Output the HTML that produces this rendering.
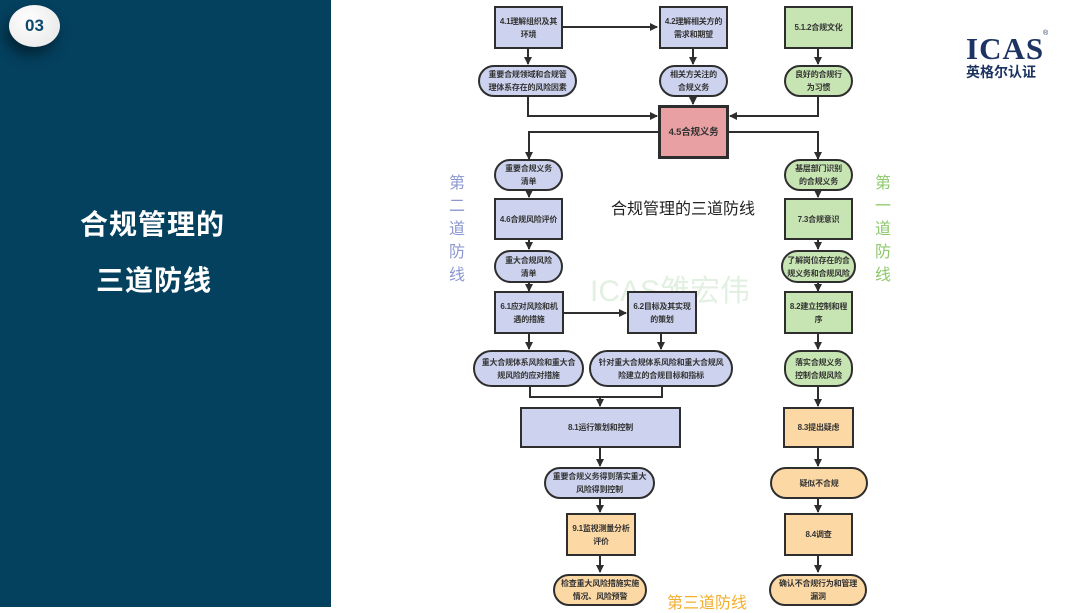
<!DOCTYPE html>
<html><head><meta charset="utf-8"><style>
*{margin:0;padding:0;box-sizing:border-box}
body{width:1080px;height:607px;position:relative;overflow:hidden;background:#fff;font-family:"Liberation Sans","Noto Sans CJK SC",sans-serif}
.n{position:absolute;display:flex;align-items:center;justify-content:center;text-align:center;border:2.5px solid #2e2e2e;font-size:8px;font-weight:bold;color:#333;line-height:13px;padding:0;white-space:nowrap;letter-spacing:-0.2px}
.p{border-radius:17px}
.b{background:#cdd3ee}.g{background:#c7e5b2}.o{background:#fcd8a4}
.t{position:absolute;white-space:nowrap}
</style></head><body>
<div style="position:absolute;left:0;top:0;width:331px;height:607px;background:#04415f"></div>
<div style="position:absolute;left:9px;top:5px;width:51px;height:42px;border-radius:50%;background:radial-gradient(circle at 40% 35%,#fff,#e4e4e4);box-shadow:-4px 8px 14px rgba(0,0,0,.45);display:flex;align-items:center;justify-content:center;font-weight:bold;font-size:17px;color:#0b4a6c">03</div>
<div class="t" style="left:80px;top:203px;font-size:28px;font-weight:bold;color:#fff;letter-spacing:1px">合规管理的</div>
<div class="t" style="left:96px;top:259px;font-size:28px;font-weight:bold;color:#fff;letter-spacing:1px">三道防线</div>

<div class="t" style="left:966px;top:31px;font-family:'Liberation Serif',serif;font-weight:bold;font-size:31px;color:#1d3462;letter-spacing:1px">ICAS</div>
<div class="t" style="left:1043px;top:30px;font-size:7px;color:#1d3462">®</div>
<div class="t" style="left:966px;top:62px;font-size:14px;font-weight:bold;color:#1d3462">英格尔认证</div>

<div class="t" style="left:590px;top:266px;font-size:30px;color:#e2f0e2">ICAS雏宏伟</div>

<svg style="position:absolute;left:0;top:0" width="1080" height="607">
<defs><marker id="a" markerWidth="8" markerHeight="8" refX="7" refY="4" orient="auto" markerUnits="userSpaceOnUse"><path d="M0,0L8,4L0,8z" fill="#2e2e2e"/></marker></defs>
<g stroke="#2e2e2e" stroke-width="2" fill="none">
<path d="M528 48V64" marker-end="url(#a)"/>
<path d="M562 27H657" marker-end="url(#a)"/>
<path d="M693 48V64" marker-end="url(#a)"/>
<path d="M818 48V64" marker-end="url(#a)"/>
<path d="M693 97V104" marker-end="url(#a)"/>
<path d="M528 97V116H657" marker-end="url(#a)"/>
<path d="M818 97V116H730" marker-end="url(#a)"/>
<path d="M659 132H529V159" marker-end="url(#a)"/>
<path d="M728 132H818V159" marker-end="url(#a)"/>
<path d="M529 191V197" marker-end="url(#a)"/>
<path d="M529 240V249" marker-end="url(#a)"/>
<path d="M529 283V291" marker-end="url(#a)"/>
<path d="M562 313H626" marker-end="url(#a)"/>
<path d="M529 333V349" marker-end="url(#a)"/>
<path d="M661 333V349" marker-end="url(#a)"/>
<path d="M530 387V397H662V387" />
<path d="M600 397V406" marker-end="url(#a)"/>
<path d="M600 447V466" marker-end="url(#a)"/>
<path d="M600 498V512" marker-end="url(#a)"/>
<path d="M600 555V572" marker-end="url(#a)"/>
<path d="M818 191V197" marker-end="url(#a)"/>
<path d="M818 240V249" marker-end="url(#a)"/>
<path d="M818 283V291" marker-end="url(#a)"/>
<path d="M818 333V349" marker-end="url(#a)"/>
<path d="M818 387V406" marker-end="url(#a)"/>
<path d="M818 447V466" marker-end="url(#a)"/>
<path d="M818 498V512" marker-end="url(#a)"/>
<path d="M818 555V572" marker-end="url(#a)"/>
</g></svg>

<div class="n b" style="left:494px;top:6px;width:69px;height:43px">4.1理解组织及其<br>环境</div>
<div class="n b p" style="left:478px;top:65px;width:99px;height:32px">重要合规领域和合规管<br>理体系存在的风险因素</div>
<div class="n b" style="left:659px;top:6px;width:69px;height:43px">4.2理解相关方的<br>需求和期望</div>
<div class="n b p" style="left:659px;top:65px;width:69px;height:32px">相关方关注的<br>合规义务</div>
<div class="n g" style="left:784px;top:6px;width:69px;height:43px">5.1.2合规文化</div>
<div class="n g p" style="left:784px;top:65px;width:69px;height:32px">良好的合规行<br>为习惯</div>
<div class="n" style="left:658px;top:105px;width:71px;height:54px;background:#e8a0a2;border-width:3.5px;font-size:9.5px">4.5合规义务</div>

<div class="n b p" style="left:494px;top:159px;width:69px;height:32px">重要合规义务<br>清单</div>
<div class="n b" style="left:494px;top:198px;width:69px;height:42px">4.6合规风险评价</div>
<div class="n b p" style="left:494px;top:250px;width:69px;height:33px">重大合规风险<br>清单</div>
<div class="n b" style="left:494px;top:291px;width:70px;height:43px">6.1应对风险和机<br>遇的措施</div>
<div class="n b" style="left:627px;top:291px;width:70px;height:43px">6.2目标及其实现<br>的策划</div>
<div class="n b p" style="left:473px;top:350px;width:111px;height:37px;border-radius:19px">重大合规体系风险和重大合<br>规风险的应对措施</div>
<div class="n b p" style="left:589px;top:350px;width:144px;height:37px;border-radius:19px">针对重大合规体系风险和重大合规风<br>险建立的合规目标和指标</div>
<div class="n b" style="left:520px;top:407px;width:161px;height:41px">8.1运行策划和控制</div>
<div class="n b p" style="left:544px;top:467px;width:111px;height:32px">重要合规义务得到落实重大<br>风险得到控制</div>
<div class="n o" style="left:566px;top:513px;width:70px;height:43px">9.1监视测量分析<br>评价</div>
<div class="n o p" style="left:553px;top:574px;width:94px;height:32px">检查重大风险措施实施<br>情况、风险预警</div>

<div class="n g p" style="left:784px;top:159px;width:69px;height:32px">基层部门识别<br>的合规义务</div>
<div class="n g" style="left:784px;top:198px;width:69px;height:42px">7.3合规意识</div>
<div class="n g p" style="left:781px;top:250px;width:75px;height:33px">了解岗位存在的合<br>规义务和合规风险</div>
<div class="n g" style="left:784px;top:291px;width:69px;height:43px">8.2建立控制和程<br>序</div>
<div class="n g p" style="left:784px;top:350px;width:69px;height:37px">落实合规义务<br>控制合规风险</div>
<div class="n o" style="left:783px;top:407px;width:71px;height:41px">8.3提出疑虑</div>
<div class="n o p" style="left:770px;top:467px;width:98px;height:32px">疑似不合规</div>
<div class="n o" style="left:784px;top:513px;width:69px;height:43px">8.4调查</div>
<div class="n o p" style="left:769px;top:574px;width:98px;height:32px">确认不合规行为和管理<br>漏洞</div>

<div class="t" style="left:611px;top:195px;font-size:16px;color:#222">合规管理的三道防线</div>
<div class="t" style="left:449px;top:172px;font-size:16px;color:#8c97d2;width:18px;white-space:normal;line-height:23px">第二道防线</div>
<div class="t" style="left:875px;top:172px;font-size:16px;color:#8dc86c;width:18px;white-space:normal;line-height:23px">第一道防线</div>
<div class="t" style="left:667px;top:589px;font-size:16px;color:#f3ae2e">第三道防线</div>
</body></html>
